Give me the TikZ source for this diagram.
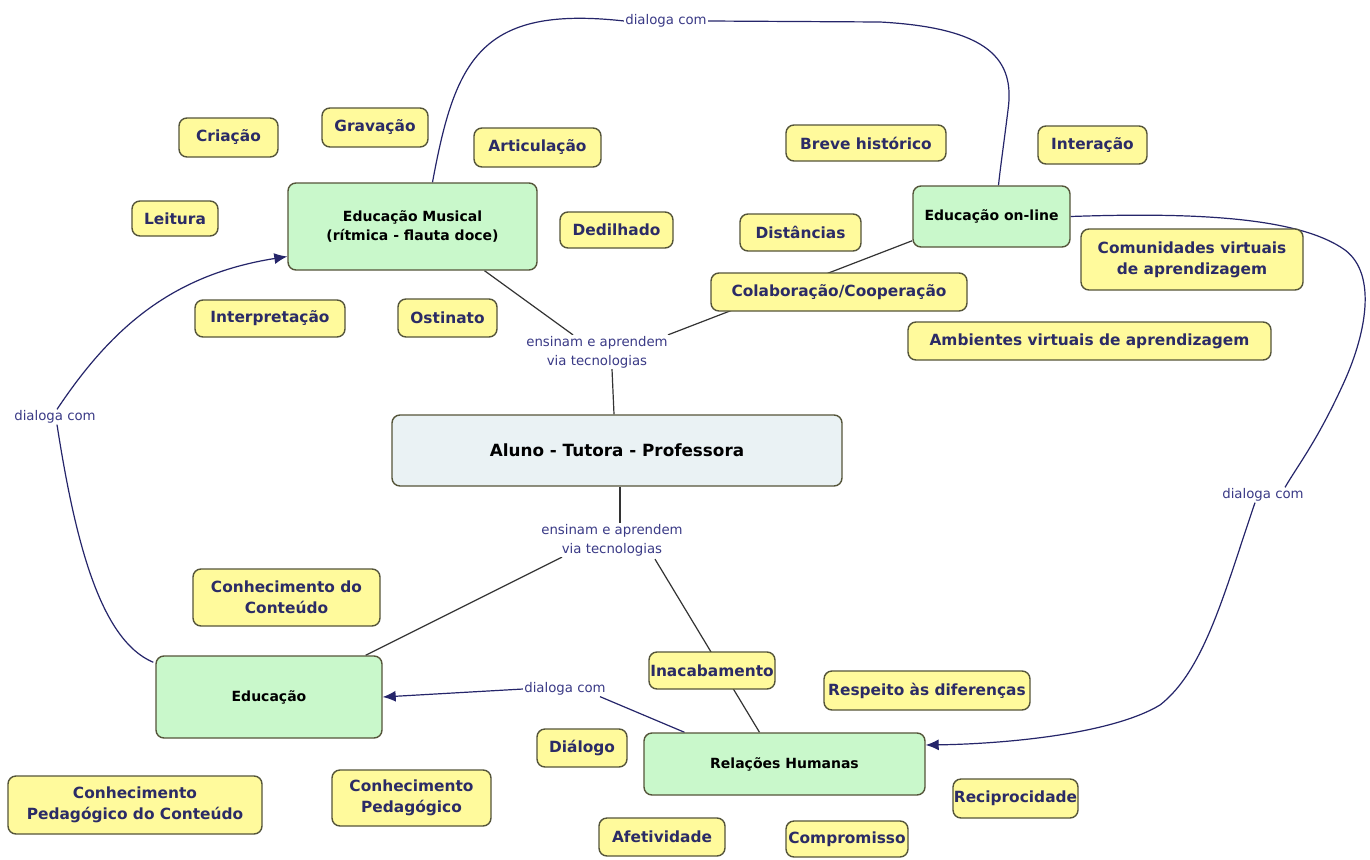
\documentclass[tikz,border=0pt]{standalone}
\usepackage{fontspec}
\setmainfont{DejaVu Sans}
\usetikzlibrary{arrows.meta,calc}
\pgfdeclarelayer{bg}
\pgfsetlayers{bg,main}
\definecolor{yfill}{HTML}{FFFA9C}
\definecolor{ydraw}{HTML}{55553A}
\definecolor{ytext}{HTML}{2B2B66}
\definecolor{gfill}{HTML}{C9F8CB}
\definecolor{cfill}{HTML}{EAF2F4}
\definecolor{lbl}{HTML}{3A3A86}
\definecolor{navy}{HTML}{25256A}
\definecolor{lk}{HTML}{333333}
\tikzset{
  box/.style={draw=ydraw, line width=1.4pt, rounded corners=8pt, align=center, inner sep=0pt},
  sz/.style 2 args={minimum width=#1, minimum height=#2},
  yb/.style={box, fill=yfill, text=ytext, font=\fontsize{15.4}{21}\selectfont\bfseries},
  gb/.style={box, fill=gfill, text=black, font=\fontsize{14}{19}\selectfont\bfseries},
  cb/.style={box, fill=cfill, text=black, font=\fontsize{16.8}{20}\selectfont\bfseries},
  lab/.style={text=lbl, font=\fontsize{13.3}{19}\selectfont, align=center, inner sep=1pt, fill=white},
  dl/.style={draw=navy, line width=1.2pt},
  arr/.style={dl, -{Latex[length=13pt,width=11pt]}},
  ln/.style={draw=lk, line width=1.2pt}
}
\begin{document}
\begin{tikzpicture}[x=1pt,y=-1pt]
\useasboundingbox (0,0) rectangle (1370,859);

% yellow nodes
\node[yb, sz={99}{39}] (criacao) at (228.5,137.5) {Criação};
\node[yb, sz={106}{39}] (gravacao) at (375,127.5) {Gravação};
\node[yb, sz={127}{39}] (articulacao) at (537.5,147.5) {Articulação};
\node[yb, sz={86}{35}] (leitura) at (175,218.5) {Leitura};
\node[yb, sz={113}{36}] (dedilhado) at (616.5,230) {Dedilhado};
\node[yb, sz={150}{37}] (interp) at (270,318.5) {Interpretação};
\node[yb, sz={99}{38}] (ostinato) at (447.5,318) {Ostinato};
\node[yb, sz={160}{36}] (breve) at (866,143) {Breve histórico};
\node[yb, sz={109}{38}] (interacao) at (1092.5,145) {Interação};
\node[yb, sz={121}{37}] (distancias) at (800.5,232.5) {Distâncias};
\node[yb, sz={222}{61}] (comunidades) at (1192,259.5) {Comunidades virtuais\\de aprendizagem};
\node[yb, sz={256}{38}] (colab) at (839,292) {Colaboração/Cooperação};
\node[yb, sz={363}{38}] (ambientes) at (1089.5,341) {Ambientes virtuais de aprendizagem};
\node[yb, sz={187}{57}] (cconteudo) at (286.5,597.5) {Conhecimento do\\Conteúdo};
\node[yb, sz={126}{37}] (inacab) at (712,670.5) {Inacabamento};
\node[yb, sz={206}{39}] (respeito) at (927,690.5) {Respeito às diferenças};
\node[yb, sz={90}{38}] (dialogo) at (582,748) {Diálogo};
\node[yb, sz={254}{58}] (cpc) at (135,805) {Conhecimento\\Pedagógico do Conteúdo};
\node[yb, sz={159}{56}] (cp) at (411.5,798) {Conhecimento\\Pedagógico};
\node[yb, sz={125}{39}] (recip) at (1015.5,798.5) {Reciprocidade};
\node[yb, sz={126}{38}] (afet) at (662,837) {Afetividade};
\node[yb, sz={122}{36}] (compr) at (847,839) {Compromisso};

% green nodes
\node[gb, sz={249}{87}] (em) at (412.5,226.5) {Educação Musical\\(rítmica - flauta doce)};
\node[gb, sz={157}{61}] (online) at (991.5,216.5) {Educação on-line};
\node[gb, sz={226}{82}] (educ) at (269,697) {Educação};
\node[gb, sz={281}{62}] (rh) at (784.5,764) {Relações Humanas};

% center
\node[cb, sz={450}{71}] (ctr) at (617,450.5) {Aluno - Tutora - Professora};

% link labels
\node[lab] (lab1) at (597,352) {ensinam e aprendem\\via tecnologias};
\node[lab] (lab2) at (612,540) {ensinam e aprendem\\via tecnologias};
\node[lab] (labtop) at (666,21) {dialoga com};
\node[lab] (lableft) at (55,417) {dialoga com};
\node[lab] (labright) at (1263,495) {dialoga com};
\node[lab] (labbot) at (565,689) {dialoga com};

\begin{pgfonlayer}{bg}
\fill[white] (0,0) rectangle (1370,859);
% ensinam e aprendem links
\draw[ln] ([xshift=72]em.south) -- ($(lab1.north)+(-24,0)$);
\draw[ln] ($(online.south west)+(0,-7)$) -- ($(lab1.north)+(71,0)$);
\draw[ln] ($(lab1.south)+(15,0)$) -- ([xshift=-3]ctr.north);
\draw[ln] ([xshift=3]ctr.south) -- ($(lab2.north)+(8,0)$);
\draw[ln] ($(lab2.south)+(-50,0)$) -- ([xshift=-17]educ.north east);
\draw[ln] ($(lab2.south)+(43,2)$) -- ([xshift=-25]rh.north);

% dialoga com links
\draw[dl] ([xshift=20]em.north) .. controls (455,60) and (480,5) .. (labtop.west);
\draw[dl] (labtop.east) -- (880,22) .. controls (990,28) and (1015,60) .. (1008,110)
      .. controls (1003,150) and (1000,170) .. ([xshift=7]online.north);

\draw[dl] (online.east) .. controls (1200,212) and (1300,218) .. (1345,250)
      .. controls (1378,275) and (1365,335) .. (1345,380)
      .. controls (1318,440) and (1298,465) .. ($(labright.north)+(22,0)$);
\draw[arr] ($(labright.south)+(-8,0)$) .. controls (1225,590) and (1205,670) .. (1160,705)
      .. controls (1110,735) and (1000,744) .. ([yshift=19]rh.east);

\draw[dl] ([xshift=-100]rh.north) -- ($(labbot.south)+(35,0)$);
\draw[arr] (labbot.west) -- (educ.east);

\draw[dl] ([xshift=-2,yshift=-7]educ.north west) .. controls (100,640) and (75,540) .. ($(lableft.south)+(2,0)$);
\draw[arr] ($(lableft.north)+(2,0)$) .. controls (110,330) and (170,275) .. ([yshift=-30]em.west);
\end{pgfonlayer}
\end{tikzpicture}
\end{document}
